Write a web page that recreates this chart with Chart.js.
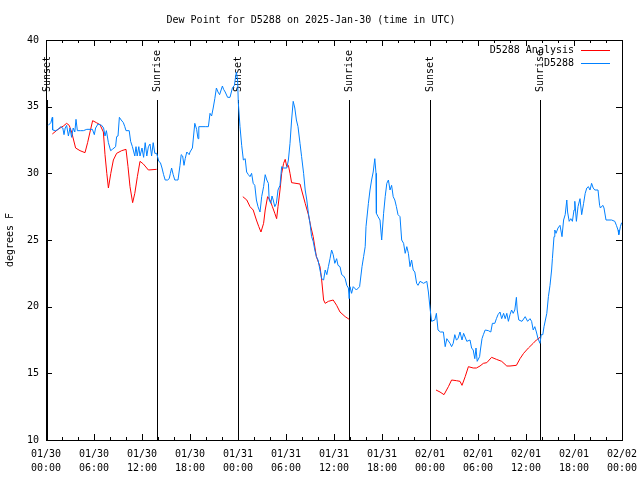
<!DOCTYPE html>
<html>
<head>
<meta charset="utf-8">
<script src="https://cdn.jsdelivr.net/npm/chart.js@4/dist/chart.umd.min.js"></script>
<style>
  body { margin: 0; background: #fff; }
  #wrap { width: 640px; height: 480px; }
</style>
</head>
<body>
<div id="wrap"><canvas id="dewChart" width="640" height="480"></canvas></div>
<script>
// hours since 01/30 00:00 UTC
const obsHours = [0.29,0.6,0.79,0.83,1.2,1.54,1.83,2.1,2.25,2.4,2.58,2.8,3.0,3.2,3.4,3.6,3.75,3.92,4.3,4.67,5.1,5.5,5.8,6.04,6.2,6.5,6.96,7.2,7.375,7.55,7.8,8.08,8.3,8.5,8.7,8.83,9.0,
  9.17,9.4,9.67,9.85,10.0,10.4,10.58,10.8,11.1,11.25,11.4,11.6,11.75,12.0,12.2,12.4,12.6,12.8,13.0,13.2,13.4,13.6,13.83,14.1,14.3,14.5,14.7,14.9,15.2,15.4,15.55,15.7,15.9,16.1,16.3,16.5,16.75,16.9,17.08,17.25,17.4,17.6,17.9,
  18.0,18.3,18.6,18.83,19.0,19.1,19.5,19.9,20.3,20.5,20.7,20.9,21.1,21.3,21.5,21.7,22.05,22.2,22.4,22.7,23.0,23.3,23.55,23.7,23.8,23.95,24.04,24.25,24.46,24.67,24.9,25.08,25.3,25.5,25.7,25.9,26.1,26.3,26.5,26.75,26.96,
  27.2,27.4,27.6,27.8,27.9,28.1,28.25,28.4,28.6,28.8,29.0,29.25,29.46,29.7,30.1,30.3,30.5,30.7,30.9,31.1,31.3,31.5,31.75,31.95,32.2,32.4,32.6,32.8,33.0,33.2,33.4,33.6,33.8,34.0,34.25,34.46,34.7,34.9,35.1,35.3,35.5,35.7,35.9,
  36.1,36.33,36.5,36.75,36.96,37.2,37.4,37.6,37.8,37.9,38.0,38.2,38.4,38.8,39.2,39.5,39.7,39.9,40.0,40.3,40.5,40.7,40.9,41.1,41.25,41.3,41.5,41.75,41.96,42.2,42.4,42.6,42.8,43.0,43.2,43.4,43.6,43.8,44.0,44.25,44.46,44.7,44.9,
  45.1,45.3,45.5,45.7,45.9,46.1,46.33,46.5,46.75,47.2,47.6,47.8,48.0,48.2,48.6,48.8,49.0,49.3,49.67,49.9,50.1,50.5,50.7,50.9,51.1,51.3,51.5,51.75,52.0,52.2,52.6,53.0,53.2,53.4,53.6,53.75,53.9,54.2,54.3,54.5,54.67,54.9,
  55.3,55.6,55.8,56.1,56.3,56.5,56.75,56.96,57.2,57.4,57.6,57.8,58.0,58.2,58.4,58.6,58.8,58.9,59.1,59.5,59.9,60.2,60.5,60.7,60.9,61.1,61.3,61.5,61.75,61.9,62.1,62.25,62.6,62.8,63.0,63.2,63.3,63.5,63.6,63.75,64.0,64.25,
  64.5,64.7,64.9,65.1,65.2,65.4,65.6,65.8,66.0,66.1,66.3,66.5,66.75,66.96,67.2,67.4,67.6,67.8,68.0,68.2,68.4,68.6,69.0,69.2,69.3,69.6,69.75,70.0,70.7,71.1,71.3,71.5,71.6,71.8,71.96];

const obsDew = [33.6,33.8,34.2,33.25,33.2,33.3,33.5,33.4,32.9,33.4,33.6,32.8,33.4,32.7,33.4,33.1,34.05,33.2,33.2,33.2,33.3,33.3,33.3,32.9,33.4,33.7,33.6,33.4,32.8,33.2,32.3,31.7,31.8,31.9,32.0,32.75,32.8,
  34.2,34.0,33.8,33.5,33.2,33.2,32.4,32.0,31.3,32.0,31.3,32.0,31.3,31.9,31.2,32.3,31.3,32.0,32.2,31.3,32.3,31.5,31.5,30.9,30.8,30.4,29.9,29.5,29.5,29.6,30.0,30.4,29.9,29.5,29.5,29.5,30.6,31.4,31.3,30.6,31.1,31.6,31.4,
  31.6,31.9,33.75,33.3,32.6,33.5,33.5,33.5,33.5,34.5,34.3,34.9,35.6,36.4,36.1,35.9,36.55,36.3,36.1,35.7,35.7,36.4,36.6,37.25,37.6,37.0,35.3,33.5,32.1,31.0,31.1,30.1,29.9,29.75,30.0,29.25,29.1,28.0,27.5,27.1,28.25,
  29.0,29.9,29.5,29.25,28.0,27.75,28.3,28.0,27.5,27.75,28.75,29.1,30.5,30.4,30.4,31.0,32.25,34.0,35.4,34.9,34.0,33.5,32.25,31.25,30.0,28.75,28.0,27.0,26.25,25.25,24.9,24.25,23.75,23.5,22.75,22.1,22.0,22.75,22.4,23.0,23.6,24.25,23.9,
  23.25,23.6,23.1,23.0,22.4,22.3,22.1,21.6,21.4,20.6,21.5,21.0,21.5,21.25,21.5,23.0,23.75,24.5,26.0,27.75,28.75,29.5,30.1,31.1,30.0,27.0,26.75,26.5,25.0,27.0,28.25,29.25,29.5,28.75,29.1,28.25,28.0,27.5,26.9,26.75,25.0,24.75,24.0,
  24.5,24.0,23.0,23.5,22.75,22.6,21.75,21.6,21.9,21.75,21.9,21.1,19.9,18.9,19.0,19.5,18.25,18.1,18.1,17.0,17.6,17.25,17.0,17.25,17.9,17.5,17.6,18.1,17.5,18.0,17.4,17.5,16.9,16.75,16.1,16.9,15.9,16.25,16.75,17.6,17.9,18.25,
  18.2,18.1,18.75,18.75,19.1,19.4,19.6,19.1,19.5,19.1,19.5,18.9,19.4,19.75,19.5,19.75,20.7,19.75,19.0,18.9,19.25,18.9,19.1,18.9,18.25,18.5,18.1,17.6,17.25,17.9,17.9,18.5,19.5,20.75,21.6,22.75,23.6,25.25,25.75,25.5,25.9,26.1,
  25.25,26.5,26.9,28.0,27.1,26.4,26.6,26.4,27.25,27.9,26.4,27.5,28.1,26.9,27.75,28.5,28.9,29.0,28.75,29.25,28.9,28.75,28.75,27.6,27.4,27.6,27.4,26.5,26.5,26.4,26.1,25.75,25.4,26.0,26.3];

const anaHours = [0.79,1.5,2.17,2.58,2.9,3.2,3.7,4.25,4.875,5.2,5.5,5.83,6.3,6.75,7.17,7.375,7.6,7.8,8.1,8.42,8.83,9.46,10.0,10.25,10.5,10.83,11.1,11.42,11.75,12.17,12.8,13.83,
  19.0,
  24.6,25.1,25.5,25.9,26.3,26.6,26.87,27.2,27.4,27.7,28.0,28.3,28.6,28.83,29.0,29.25,29.46,29.7,29.9,30.1,30.3,30.5,30.7,31.75,31.95,32.4,32.8,33.1,33.4,33.8,34.25,34.46,34.7,34.9,35.3,35.9,36.33,36.75,37.4,37.9,
  43.0,
  48.75,49.25,49.75,50.3,50.7,51.3,51.75,52.0,52.4,52.8,53.4,53.8,54.25,54.67,55.1,55.7,56.3,56.96,57.6,58.0,58.8,59.25,59.7,60.3,60.9,61.3,61.75];

const anaDew = [32.95,33.3,33.55,33.75,33.6,33.1,31.9,31.7,31.55,32.3,33.1,33.95,33.8,33.65,33.1,31.4,30.0,28.9,30.0,31.0,31.5,31.7,31.8,30.5,29.0,27.8,28.5,29.75,30.9,30.7,30.25,30.3,
  null,
  28.25,28.0,27.5,27.25,26.5,26.0,25.6,26.25,27.25,28.25,28.0,27.5,27.0,26.6,27.5,28.75,30.0,30.75,31.05,30.5,30.6,30.0,29.3,29.2,28.75,27.75,26.9,26.0,25.25,23.75,23.0,22.0,20.5,20.25,20.4,20.5,20.1,19.6,19.25,19.05,
  null,
  13.75,13.6,13.4,14.0,14.5,14.45,14.4,14.1,14.75,15.5,15.4,15.4,15.55,15.75,15.8,16.2,16.05,15.9,15.55,15.55,15.6,16.1,16.5,16.9,17.25,17.5,17.7];

const sunHours = [0.08, 13.87, 24.05, 37.9, 48.05, 61.8];
const sunLabels = ['Sunset', 'Sunrise', 'Sunset', 'Sunrise', 'Sunset', 'Sunrise'];

const tickDates = ['01/30','01/30','01/30','01/30','01/31','01/31','01/31','01/31','02/01','02/01','02/01','02/01','02/02'];
const tickTimes = ['00:00','06:00','12:00','18:00','00:00','06:00','12:00','18:00','00:00','06:00','12:00','18:00','00:00'];

const FONT = 'DejaVu Sans Mono';

const gnuplotFrame = {
  id: 'gnuplotFrame',
  beforeDatasetsDraw(chart) {
    const { ctx, chartArea: a, scales: { x } } = chart;
    ctx.save();
    // sunrise / sunset markers
    ctx.strokeStyle = '#000';
    ctx.lineWidth = 1;
    ctx.fillStyle = '#000';
    ctx.font = '10px ' + FONT;
    const lineTop = a.top + (a.bottom - a.top) * 0.15;
    const labelY = a.top + (a.bottom - a.top) * 0.13;
    sunHours.forEach((h, i) => {
      const px = Math.round(x.getPixelForValue(h)) + 0.5;
      ctx.beginPath();
      ctx.moveTo(px, lineTop);
      ctx.lineTo(px, a.bottom);
      ctx.stroke();
      ctx.save();
      ctx.translate(px, labelY);
      ctx.rotate(-Math.PI / 2);
      ctx.textAlign = 'left';
      ctx.textBaseline = 'middle';
      ctx.fillText(sunLabels[i], 0, 0);
      ctx.restore();
    });
    ctx.restore();
  },
  afterDraw(chart) {
    const { ctx, chartArea: a, scales: { x, y } } = chart;
    ctx.save();
    ctx.strokeStyle = '#000';
    ctx.lineWidth = 1;
    ctx.strokeRect(a.left + 0.5, a.top + 0.5, a.right - a.left, a.bottom - a.top);
    ctx.beginPath();
    // x ticks, bottom and top, pointing inward
    for (let h = 0; h <= 72; h += 2) {
      const px = Math.round(x.getPixelForValue(h)) + 0.5;
      const len = h % 6 === 0 ? 6 : 3;
      ctx.moveTo(px, a.bottom); ctx.lineTo(px, a.bottom - len);
      ctx.moveTo(px, a.top); ctx.lineTo(px, a.top + len);
    }
    // y ticks, left and right
    for (let v = 10; v <= 40; v += 5) {
      const py = Math.round(y.getPixelForValue(v)) + 0.5;
      ctx.moveTo(a.left, py); ctx.lineTo(a.left + 6, py);
      ctx.moveTo(a.right, py); ctx.lineTo(a.right - 6, py);
    }
    ctx.stroke();

    // key, top right inside the plot
    ctx.font = '10px ' + FONT;
    ctx.textAlign = 'right';
    ctx.textBaseline = 'middle';
    ctx.fillStyle = '#000';
    const keyRows = [chart.data.datasets[1], chart.data.datasets[0]];
    keyRows.forEach((ds, i) => {
      const ky = a.top + 10 + i * 13;
      ctx.fillText(ds.label, a.right - 48, ky);
      ctx.strokeStyle = ds.borderColor;
      ctx.beginPath();
      ctx.moveTo(a.right - 41, ky + 0.5);
      ctx.lineTo(a.right - 12, ky + 0.5);
      ctx.stroke();
    });
    ctx.restore();
  }
};

new Chart(document.getElementById('dewChart'), {
  type: 'line',
  data: {
    datasets: [
      {
        label: 'D5288',
        data: obsHours.map((h, i) => ({ x: h, y: obsDew[i] })),
        borderColor: 'rgb(0,128,255)',
        borderWidth: 1,
        pointRadius: 0,
        tension: 0
      },
      {
        label: 'D5288 Analysis',
        data: anaHours.map((h, i) => ({ x: h, y: anaDew[i] })),
        borderColor: 'rgb(255,0,0)',
        borderWidth: 1,
        pointRadius: 0,
        tension: 0,
        spanGaps: false
      }
    ]
  },
  options: {
    responsive: false,
    animation: false,
    layout: { padding: { left: 0, right: 18, top: 0, bottom: 0 } },
    plugins: {
      legend: { display: false },
      tooltip: { enabled: false },
      title: {
        display: true,
        text: 'Dew Point for D5288 on 2025-Jan-30 (time in UTC)',
        color: '#000',
        font: { family: FONT, size: 10, weight: 'normal', lineHeight: 1.2 },
        padding: { top: 14, bottom: 14 }
      }
    },
    scales: {
      x: {
        type: 'linear',
        min: 0,
        max: 72,
        grid: { display: false, drawTicks: false },
        border: { display: false },
        afterFit: s => { s.height = 40; s.paddingLeft = 0; s.paddingRight = 0; },
        ticks: {
          stepSize: 2,
          autoSkip: false,
          maxRotation: 0,
          padding: 7,
          color: '#000',
          font: { family: FONT, size: 10, lineHeight: 1.4 },
          callback: v => (v % 6 === 0 ? [tickDates[v / 6], tickTimes[v / 6]] : '')
        }
      },
      y: {
        min: 10,
        max: 40,
        grid: { display: false, drawTicks: false },
        border: { display: false },
        afterFit: s => { s.width = 46; },
        title: {
          display: true,
          text: 'degrees F',
          color: '#000',
          font: { family: FONT, size: 10, lineHeight: 1.2 },
          padding: { top: 4, bottom: 0 }
        },
        ticks: {
          stepSize: 5,
          padding: 7,
          color: '#000',
          font: { family: FONT, size: 10 }
        }
      }
    }
  },
  plugins: [gnuplotFrame]
});
</script>
</body>
</html>
